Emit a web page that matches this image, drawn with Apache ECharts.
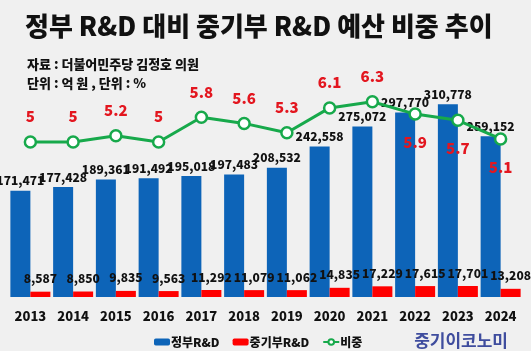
<!DOCTYPE html>
<html>
<head>
<meta charset="utf-8">
<script src="https://cdn.jsdelivr.net/npm/echarts@6/dist/echarts.min.js"></script>
<style>
  html, body { margin: 0; padding: 0; background: #f0f0f0; }
  #chart { width: 531px; height: 351px; }
</style>
</head>
<body>
<div id="chart"></div>
<script>
const years = ['2013', '2014', '2015', '2016', '2017', '2018', '2019', '2020', '2021', '2022', '2023', '2024']
const govRnd = [171471, 177428, 189361, 191492, 195018, 197483, 208532, 242558, 275072, 297770, 310778, 259152]
const smeRnd = [8587, 8850, 9835, 9563, 11292, 11079, 11062, 14835, 17229, 17615, 17701, 13208]
const share = [5, 5, 5.2, 5, 5.8, 5.6, 5.3, 6.1, 6.3, 5.9, 5.7, 5.1]

const font = "'Noto Sans CJK KR', sans-serif"
const chart = echarts.init(document.getElementById('chart'))

const option = {
  backgroundColor: '#f0f0f0',
  animation: false,
  textStyle: { fontFamily: font },
  title: [
    {
      text: '정부 R&D 대비 중기부 R&D 예산 비중 추이',
      left: 20,
      top: 8,
      textStyle: { fontSize: 26, fontWeight: 900, color: '#111', fontFamily: font }
    },
    {
      text: '자료 : 더불어민주당 김정호 의원\n단위 : 억 원 , 단위 : %',
      left: 22,
      top: 50,
      textStyle: { fontSize: 13, fontWeight: 900, color: '#111', lineHeight: 19, fontFamily: font }
    },
    {
      text: '중기이코노미',
      right: 18,
      top: 327,
      textStyle: { fontSize: 17, fontWeight: 'bold', color: '#3f4d9e', fontFamily: font }
    }
  ],
  legend: {
    left: 149,
    top: 331,
    itemWidth: 16,
    itemHeight: 7,
    itemGap: 13,
    textStyle: { fontSize: 12, fontWeight: 900, color: '#111', padding: [0, 0, 0, -4] },
    data: ['정부R&D', '중기부R&D', '비중']
  },
  grid: { left: 9, right: 9, top: 80, bottom: 54 },
  xAxis: {
    type: 'category',
    data: years,
    axisLine: { show: false },
    axisTick: { show: false },
    axisLabel: { margin: 13, fontSize: 13, fontWeight: 900, color: '#111' }
  },
  yAxis: [
    { type: 'value', min: 0, max: 350000, show: false },
    { type: 'value', min: 0, max: 7, show: false }
  ],
  series: [
    {
      name: '정부R&D',
      type: 'bar',
      data: govRnd,
      barWidth: 20,
      barGap: '0%',
      itemStyle: { color: '#0d64b8' },
      label: {
        show: true,
        position: 'top',
        distance: 4,
        fontSize: 12,
        fontWeight: 900,
        color: '#111',
        formatter: p => p.value.toLocaleString('en-US')
      }
    },
    {
      name: '중기부R&D',
      type: 'bar',
      data: smeRnd,
      barWidth: 20,
      itemStyle: { color: '#ff0000' },
      label: {
        show: true,
        position: 'top',
        distance: 7,
        fontSize: 12,
        fontWeight: 900,
        color: '#111',
        formatter: p => p.value.toLocaleString('en-US')
      }
    },
    {
      name: '비중',
      type: 'line',
      yAxisIndex: 1,
      z: 5,
      symbol: 'circle',
      symbolSize: 11,
      lineStyle: { color: '#17a94b', width: 3 },
      itemStyle: { color: '#fff', borderColor: '#17a94b', borderWidth: 2.5 },
      data: share.map((v, i) => ({
        value: v,
        label: i >= 9 ? { position: 'bottom', distance: 14 } : { position: 'top', distance: 11 }
      })),
      label: {
        show: true,
        fontSize: 15,
        fontWeight: 900,
        color: '#e3161f'
      }
    }
  ]
}

chart.setOption(option)
</script>
</body>
</html>
